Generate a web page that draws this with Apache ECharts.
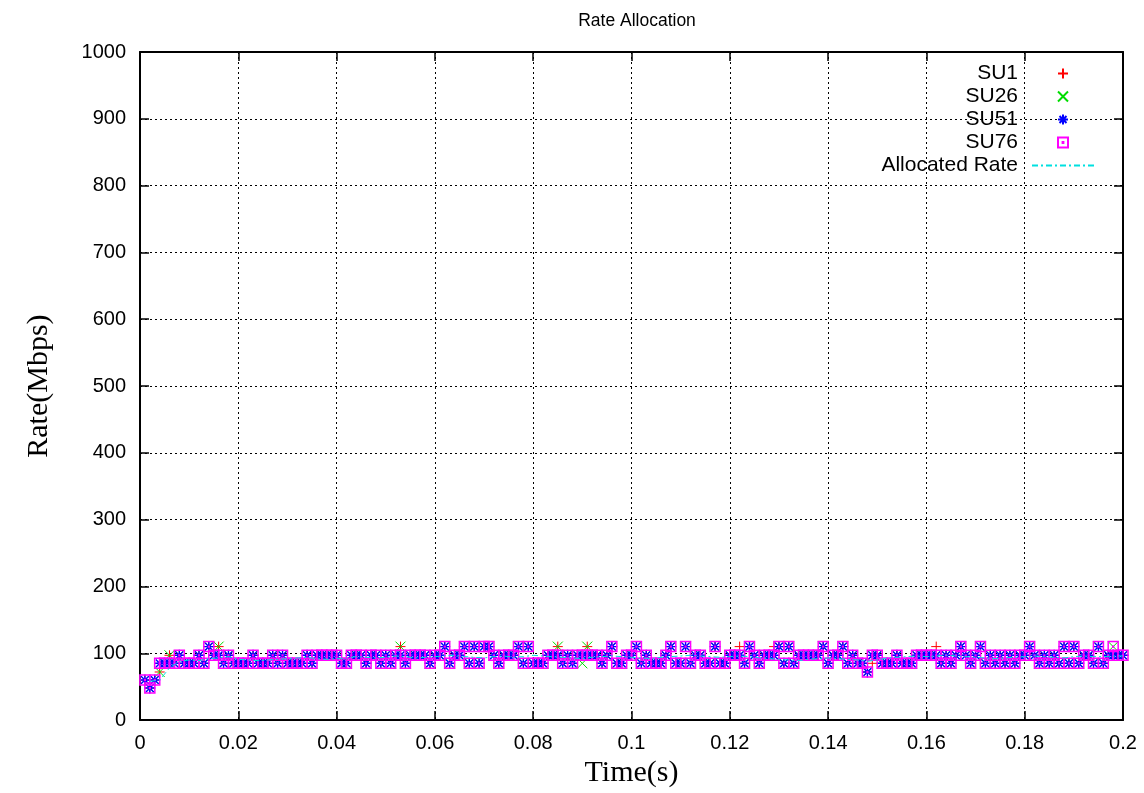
<!DOCTYPE html>
<html>
<head>
<meta charset="utf-8">
<script src="https://cdn.jsdelivr.net/npm/echarts@6/dist/echarts.min.js"></script>
<style>
html,body{margin:0;padding:0;background:#fff;}
#chart{width:1144px;height:793px;}
</style>
</head>
<body>
<div id="chart"></div>
<script>
// sample times: first sample at 1 ms, one sample per ms
const firstMs = 1;
// SU51 rate (Mbps), samples k = 1..200 ms
const su51 = [
  60,48,60,85,85,85,85,97,85,85,85,97,85,110,97,97,85,97,85,85,85,
  85,97,85,85,85,97,85,97,85,85,85,85,97,85,97,97,97,97,97,85,85,97,97,
  97,85,97,97,85,97,85,97,97,85,97,97,97,97,85,97,97,110,85,97,97,110,85,110,
  85,110,110,97,85,97,97,97,110,85,110,85,85,85,97,97,97,85,97,85,97,97,97,97,
  97,85,97,110,85,85,97,97,110,85,97,85,85,85,97,110,85,85,110,85,97,97,85,85,110,85,85,97,97,97,85,110,97,85,97,97,97,110,85,110,
  85,97,97,97,97,97,110,85,97,97,110,85,97,85,85,72,97,97,85,85,85,97,85,85,85,97,97,97,97,97,85,97,
  85,97,110,97,85,97,110,85,97,85,97,85,97,85,97,97,110,97,85,97,85,97,85,110,85,110,85,97,97,85,110,85,97,97,97,97
];
// other SUs follow SU51 except at these samples [ms, Mbps]
const su1Diff  = [[4,72],[6,97],[16,110],[53,110],[85,110],[91,110],[122,110],[129,110],[149,85],[162,110]];
const su26Diff = [[4,72],[6,97],[16,110],[53,110],[71,110],[85,110],[90,85],[91,110],[198,110]];
const su76Diff = [[198,110]];
// allocated rate, one value every 2 ms starting at 2 ms
const allocStartMs = 2;
const allocStepMs = 2;
const allocated = [
  58,60,78,88,90,89,92,93,95,91,
  90,89,90,91,92,93,94,92,91,92,
  93,95,94,93,94,96,95,93,94,95,
  96,97,95,94,93,95,96,94,95,97,
  96,95,94,93,92,94,95,96,95,94,
  93,92,94,95,96,97,96,95,94,95,
  96,95,93,92,91,90,89,91,92,93,
  92,91,90,88,90,93,94,95,96,95,
  96,97,96,95,94,93,92,93,94,95,
  96,95,94,93,95,96,95,95,96,96
];
const yTicks = {min:0, max:1000, interval:100};
const xTicks = {min:0, max:0.2, interval:0.02};

function build(base, diff){
  const m = new Map(diff);
  return base.map((v,i)=>{ const k = i + firstMs; return [k/1000, m.has(k) ? m.get(k) : v]; });
}
const allocData = allocated.map((v,i)=>[(allocStartMs + i*allocStepMs)/1000, v]);

const SANS = "'Liberation Sans', Arial, Helvetica, sans-serif";
const SERIF = "'Liberation Serif', 'Times New Roman', serif";

const plus  = 'path://M0,5L10,5M5,0L5,10';
const cross = 'path://M0,0L10,10M10,0L0,10';
const star  = 'path://M0,5L10,5M5,0L5,10M1.5,1.5L8.5,8.5M8.5,1.5L1.5,8.5';
const box   = 'path://M0,0L10,0L10,10L0,10ZM4.6,4.6L5.4,4.6L5.4,5.4L4.6,5.4Z';

function scatter(name, data, symbol, color, size, bw){
  return {
    name, type:'scatter', data, symbol, symbolSize:size,
    itemStyle:{color:'rgba(0,0,0,0)', borderColor:color, borderWidth:bw, opacity:1},
    emphasis:{disabled:true}, animation:false, silent:true
  };
}

const chart = echarts.init(document.getElementById('chart'), null, {renderer:'canvas'});
const axisCommon = {
  axisLine:{show:true, onZero:false, lineStyle:{color:'#000', width:2}},
  axisTick:{show:true, inside:true, length:9, lineStyle:{color:'#000', width:1.5}},
};
chart.setOption({
  animation:false,
  backgroundColor:'#fff',
  title:{
    text:'Rate Allocation', left:632, top:7, textAlign:'center',
    textStyle:{fontFamily:SANS, fontSize:17.5, fontWeight:'normal', color:'#000'}
  },
  legend:{
    orient:'vertical', right:44, top:58, align:'right',
    itemWidth:62, itemHeight:10, itemGap:2,
    textStyle:{fontFamily:SANS, fontSize:21, color:'#000', padding:[0,9,0,0]},
    data:['SU1','SU26','SU51','SU76',
      {name:'Allocated Rate', itemStyle:{color:'rgba(0,0,0,0)', borderWidth:0, opacity:0}}],
    selectedMode:false
  },
  grid:{left:140, right:21, top:52, bottom:72, containLabel:false},
  xAxis:[
    Object.assign({
      type:'value', min:xTicks.min, max:xTicks.max, interval:xTicks.interval,
      position:'bottom',
      name:'Time(s)', nameLocation:'middle', nameGap:31,
      nameTextStyle:{fontFamily:SERIF, fontSize:30, color:'#000'},
      axisLabel:{fontFamily:SANS, fontSize:20, color:'#000', margin:13,
        formatter:v=>String(+v.toFixed(2))},
      splitLine:{show:true, lineStyle:{color:'#000', width:1, type:[2,3]}}
    }, axisCommon),
    Object.assign({
      type:'value', min:xTicks.min, max:xTicks.max, interval:xTicks.interval,
      position:'top', axisLabel:{show:false}, splitLine:{show:false}
    }, axisCommon)
  ],
  yAxis:[
    Object.assign({
      type:'value', min:yTicks.min, max:yTicks.max, interval:yTicks.interval,
      position:'left',
      name:'Rate(Mbps)', nameLocation:'middle', nameGap:86, nameRotate:90,
      nameTextStyle:{fontFamily:SERIF, fontSize:30, color:'#000'},
      axisLabel:{fontFamily:SANS, fontSize:20, color:'#000', margin:14,
        formatter:v=>String(v)},
      splitLine:{show:true, lineStyle:{color:'#000', width:1, type:[2,3]}}
    }, axisCommon),
    Object.assign({
      type:'value', min:yTicks.min, max:yTicks.max, interval:yTicks.interval,
      position:'right', axisLabel:{show:false}, splitLine:{show:false}
    }, axisCommon)
  ],
  series:[
    scatter('SU1', build(su51, su1Diff), plus, '#ff0000', 10, 1),
    scatter('SU26', build(su51, su26Diff), cross, '#00dd00', 10, 1),
    scatter('SU51', build(su51, []), star, '#0000ff', 11, 1.4),
    scatter('SU76', build(su51, su76Diff), box, '#ff00ff', 10, 1.5),
    {
      name:'Allocated Rate', type:'line', data:allocData, showSymbol:false, symbol:'none',
      lineStyle:{color:'#00e0e0', width:1, type:[6,3,2,3]},
      itemStyle:{color:'#00e0e0'},
      emphasis:{disabled:true}, silent:true, animation:false, z:3
    }
  ]
});
</script>
</body>
</html>
